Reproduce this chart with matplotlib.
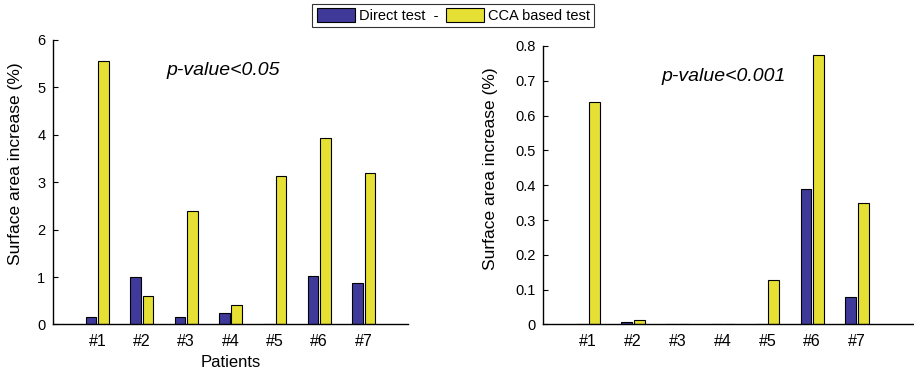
import numpy as np
import matplotlib.pyplot as plt

plt.rcParams['font.family'] = ['Liberation Sans', 'DejaVu Sans']

patients = ['#1', '#2', '#3', '#4', '#5', '#6', '#7']

# surface area increase (%) at p < 0.05
direct_05 = [0.15, 1.00, 0.15, 0.24, 0.01, 1.03, 0.88]
cca_05 = [5.55, 0.60, 2.40, 0.41, 3.13, 3.92, 3.18]

# surface area increase (%) at p < 0.001
direct_001 = [0.001, 0.008, 0.001, 0.001, 0.001, 0.39, 0.08]
cca_001 = [0.64, 0.013, 0.001, 0.001, 0.128, 0.775, 0.35]

blue = '#3f3a9a'
yellow = '#e6e035'

fig = plt.figure(figsize=(9.14, 3.70), dpi=100)
ax1 = fig.add_axes([0.058, 0.123, 0.3884, 0.770])
ax2 = fig.add_axes([0.5946, 0.123, 0.4043, 0.7527])

x = np.arange(1, len(patients) + 1)
w = 0.24
off = 0.14


def draw(ax, direct, cca, ymax, yticks, ylabels, note, xmax):
    b1 = ax.bar(x - off, direct, w, color=blue, edgecolor='black', linewidth=0.8,
                label='Direct test  -')
    b2 = ax.bar(x + off, cca, w, color=yellow, edgecolor='black', linewidth=0.8,
                label='CCA based test')
    ax.set_xlim(0, xmax)
    ax.set_ylim(0, ymax)
    ax.set_xticks(x)
    ax.set_xticklabels(patients, fontsize=11.5)
    ax.set_yticks(yticks)
    ax.set_yticklabels(ylabels, fontsize=10.5)
    ax.tick_params(axis='x', length=0, pad=7)
    ax.tick_params(axis='y', direction='in', length=3.5, pad=5.5)
    for s in ['top', 'right']:
        ax.spines[s].set_visible(False)
    for s in ['left', 'bottom']:
        ax.spines[s].set_linewidth(1.0)
    ax.set_ylabel('Surface area increase (%)', fontsize=12.5)
    ax.text(0.32, 0.89, note, transform=ax.transAxes, fontsize=14,
            style='italic', va='center', ha='left')
    return b1, b2


b1, b2 = draw(ax1, direct_05, cca_05, 6, range(0, 7),
              [str(v) for v in range(0, 7)], 'p-value<0.05', 8)
draw(ax2, direct_001, cca_001, 0.8, np.arange(0, 0.81, 0.1),
     ['0'] + ['%.1f' % v for v in np.arange(0.1, 0.81, 0.1)], 'p-value<0.001', 8.25)

ax1.set_xlabel('Patients', fontsize=12)
ax1.yaxis.set_label_coords(-0.085, 0.565)
ax2.yaxis.set_label_coords(-0.122, 0.56)

leg = fig.legend(handles=[b1, b2], loc='center', bbox_to_anchor=(0.496, 0.958),
                 ncol=2, fontsize=10.5, frameon=True, fancybox=False,
                 handlelength=2.6, handleheight=1.1, columnspacing=0.5,
                 handletextpad=0.3, borderpad=0.3)
leg.get_frame().set_edgecolor('black')
leg.get_frame().set_linewidth(0.8)

fig.savefig('out.png', dpi=100)
